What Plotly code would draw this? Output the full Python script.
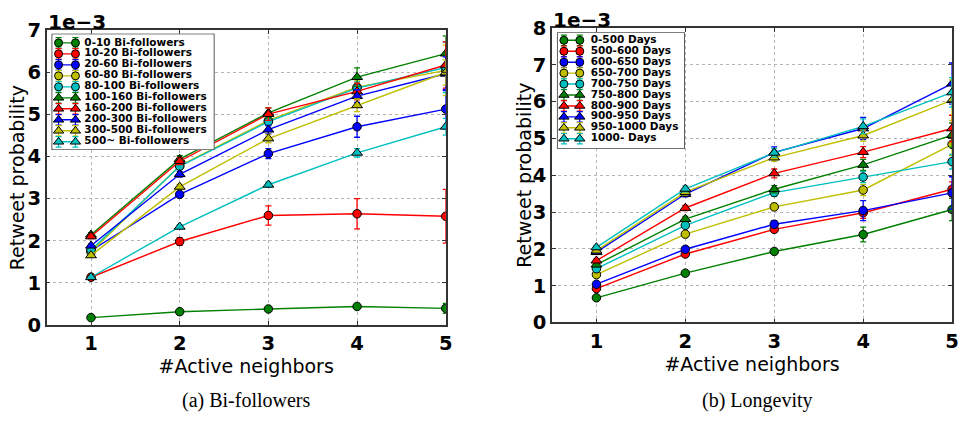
import plotly.graph_objects as go

W, H = 968, 425

# ---------------- data (values in units of 1e-3) ----------------
x_neighbors = [1, 2, 3, 4, 5]

bi_labels = ["0-10 Bi-followers", "10-20 Bi-followers", "20-60 Bi-followers",
             "60-80 Bi-followers", "80-100 Bi-followers", "100-160 Bi-followers",
             "160-200 Bi-followers", "200-300 Bi-followers", "300-500 Bi-followers",
             "500~ Bi-followers"]
bi_0_10 = [0.17, 0.31, 0.375, 0.435, 0.39]
bi_10_20 = [1.13, 1.98, 2.60, 2.64, 2.58]
bi_20_60 = [1.76, 3.10, 4.07, 4.71, 5.13]
bi_60_80 = [1.73, 3.78, 4.86, 5.65, 6.05]
bi_80_100 = [1.78, 3.77, 4.83, 5.63, 6.12]
bi_100_160 = [2.14, 3.94, 5.04, 5.89, 6.45]
bi_160_200 = [2.10, 3.89, 5.01, 5.55, 6.18]
bi_200_300 = [1.88, 3.58, 4.64, 5.44, 5.97]
bi_300_500 = [1.65, 3.28, 4.43, 5.22, 6.00]
bi_500_up = [1.13, 2.33, 3.33, 4.09, 4.71]

bi_err_0_10 = [0.02, 0.03, 0.03, 0.05, 0.12]
bi_err_10_20 = [0.04, 0.09, 0.23, 0.36, 0.64]
bi_err_20_60 = [0.05, 0.06, 0.12, 0.25, 0.47]
bi_err_60_80 = [0.05, 0.06, 0.10, 0.15, 0.60]
bi_err_80_100 = [0.04, 0.07, 0.10, 0.15, 0.60]
bi_err_100_160 = [0.05, 0.08, 0.12, 0.22, 0.42]
bi_err_160_200 = [0.05, 0.08, 0.15, 0.20, 0.55]
bi_err_200_300 = [0.04, 0.07, 0.10, 0.15, 0.40]
bi_err_300_500 = [0.04, 0.06, 0.10, 0.15, 0.30]
bi_err_500_up = [0.03, 0.05, 0.06, 0.10, 0.20]

lg_labels = ["0-500 Days", "500-600 Days", "600-650 Days", "650-700 Days",
             "700-750 Days", "750-800 Days", "800-900 Days", "900-950 Days",
             "950-1000 Days", "1000- Days"]
lg_0_500 = [0.67, 1.34, 1.93, 2.39, 3.07]
lg_500_600 = [0.92, 1.86, 2.53, 2.98, 3.62]
lg_600_650 = [1.04, 1.99, 2.67, 3.04, 3.52]
lg_650_700 = [1.30, 2.40, 3.14, 3.60, 4.84]
lg_700_750 = [1.46, 2.64, 3.53, 3.95, 4.37]
lg_750_800 = [1.57, 2.81, 3.62, 4.28, 5.09]
lg_800_900 = [1.68, 3.11, 4.05, 4.63, 5.27]
lg_900_950 = [1.91, 3.49, 4.62, 5.27, 6.49]
lg_950_1000 = [1.95, 3.54, 4.48, 5.08, 6.04]
lg_1000_up = [2.04, 3.63, 4.61, 5.33, 6.25]

lg_err_0_500 = [0.03, 0.05, 0.07, 0.20, 0.30]
lg_err_500_600 = [0.04, 0.06, 0.08, 0.15, 0.20]
lg_err_600_650 = [0.04, 0.06, 0.10, 0.27, 0.44]
lg_err_650_700 = [0.04, 0.06, 0.10, 0.15, 0.30]
lg_err_700_750 = [0.04, 0.06, 0.10, 0.15, 0.20]
lg_err_750_800 = [0.05, 0.07, 0.10, 0.15, 0.33]
lg_err_800_900 = [0.05, 0.07, 0.12, 0.15, 0.36]
lg_err_900_950 = [0.05, 0.08, 0.15, 0.30, 0.56]
lg_err_950_1000 = [0.05, 0.08, 0.10, 0.15, 0.55]
lg_err_1000_up = [0.05, 0.08, 0.12, 0.20, 0.40]

bi_values = [bi_0_10, bi_10_20, bi_20_60, bi_60_80, bi_80_100,
             bi_100_160, bi_160_200, bi_200_300, bi_300_500, bi_500_up]
bi_errors = [bi_err_0_10, bi_err_10_20, bi_err_20_60, bi_err_60_80, bi_err_80_100,
             bi_err_100_160, bi_err_160_200, bi_err_200_300, bi_err_300_500, bi_err_500_up]
lg_values = [lg_0_500, lg_500_600, lg_600_650, lg_650_700, lg_700_750,
             lg_750_800, lg_800_900, lg_900_950, lg_950_1000, lg_1000_up]
lg_errors = [lg_err_0_500, lg_err_500_600, lg_err_600_650, lg_err_650_700, lg_err_700_750,
             lg_err_750_800, lg_err_800_900, lg_err_900_950, lg_err_950_1000, lg_err_1000_up]

# ---------------- styles ----------------
COLORS = ["#008000", "#FF0000", "#0000FF", "#BFBF00", "#00BFBF"] * 2
SYMBOLS = ["circle"] * 5 + ["triangle-up"] * 5
SIZES = [8.5] * 5 + [9.5] * 5

SANS = "DejaVu Sans, Verdana, sans-serif"
SERIF = "Liberation Serif, Times New Roman, serif"


def px_dom_x(a, b):
    return [a / W, b / W]


def px_dom_y(top, bottom):
    return [(H - bottom) / H, (H - top) / H]


def py(ypx):
    return 1 - ypx / H


fig = go.Figure()


def add_series(values, errors, xa, ya):
    for i, (v, e) in enumerate(zip(values, errors)):
        fig.add_trace(go.Scatter(
            x=x_neighbors, y=v, xaxis=xa, yaxis=ya, mode="lines+markers",
            line=dict(color=COLORS[i], width=1.4),
            marker=dict(symbol=SYMBOLS[i], size=SIZES[i], color=COLORS[i],
                        line=dict(color="black", width=1)),
            error_y=dict(type="data", array=e, visible=True, color=COLORS[i],
                         thickness=1.3, width=3),
            showlegend=False, hoverinfo="skip"))


add_series(bi_values, bi_errors, "x", "y")
add_series(lg_values, lg_errors, "x2", "y2")

# ---------------- manual legends (own axes) ----------------
box_x = [0, 1, 1, 0, 0]
box_y = [0, 0, 1, 1, 0]


def add_legend(labels, xa, ya, box_w, box_h, first_row, row_step, m1, m2, tx):
    # opaque legend frame (drawn in the legend subplot, above the data)
    fig.add_trace(go.Scatter(
        x=box_x, y=box_y, xaxis=xa, yaxis=ya, mode="lines", fill="toself",
        fillcolor="white", line=dict(color="black", width=1.3),
        showlegend=False, hoverinfo="skip"))
    rows = [1 - (first_row + row_step * i) / box_h for i in range(len(labels))]
    for i, yy in enumerate(rows):
        fig.add_trace(go.Scatter(
            x=[m1 / box_w, m2 / box_w], y=[yy, yy], xaxis=xa, yaxis=ya,
            mode="lines+markers",
            line=dict(color=COLORS[i], width=1.4),
            marker=dict(symbol=SYMBOLS[i], size=SIZES[i] - 0.5, color=COLORS[i],
                        line=dict(color="black", width=1)),
            error_y=dict(type="constant", value=0.045, color=COLORS[i],
                         thickness=1.2, width=3),
            showlegend=False, hoverinfo="skip"))
    fig.add_trace(go.Scatter(
        x=[tx / box_w] * len(labels), y=rows, xaxis=xa, yaxis=ya,
        mode="text", text=labels, textposition="middle right",
        textfont=dict(family=SANS, size=10.5, color="black", weight="bold"),
        showlegend=False, hoverinfo="skip"))


add_legend(bi_labels, "x3", "y3", 164, 123, 9.7, 11.62, 7, 24, 33)
add_legend(lg_labels, "x4", "y4", 129, 123, 8.3, 11.56, 7, 23, 34)

# ---------------- axes ----------------
grid = dict(showgrid=True, gridcolor="#b4b4b4", griddash="dot", gridwidth=1)
frame = dict(showline=True, mirror="ticks", linecolor="#333", linewidth=1.6,
             ticks="inside", ticklen=4, tickcolor="#333", zeroline=False)
tickfont = dict(family=SANS, size=19.5, color="black", weight="bold")
titlefont = dict(family=SANS, size=19, color="black")

xcommon = dict(range=[0.5, 5], tickvals=x_neighbors, tickfont=tickfont,
               title=dict(text="#Active neighbors", font=titlefont, standoff=0),
               **grid, **frame)

fig.update_layout(
    width=W, height=H, margin=dict(l=0, r=0, t=0, b=0),
    paper_bgcolor="white", plot_bgcolor="white", showlegend=False,
    xaxis=dict(domain=px_dom_x(47, 449), anchor="y", **xcommon),
    yaxis=dict(domain=px_dom_y(20.6, 331.7), anchor="x", range=[0, 7], dtick=1,
               tickfont=tickfont, **grid, **frame),
    xaxis2=dict(domain=px_dom_x(556, 959), anchor="y2", **xcommon),
    yaxis2=dict(domain=px_dom_y(18, 329.3), anchor="x2", range=[0, 8], dtick=1,
                tickfont=tickfont, **grid, **frame),
    xaxis3=dict(domain=px_dom_x(52, 216), anchor="y3", range=[0, 1], visible=False),
    yaxis3=dict(domain=px_dom_y(24, 147), anchor="x3", range=[0, 1], visible=False),
    xaxis4=dict(domain=px_dom_x(561, 690), anchor="y4", range=[0, 1], visible=False),
    yaxis4=dict(domain=px_dom_y(22.7, 145.7), anchor="x4", range=[0, 1], visible=False),
)

# axis titles (y), offset labels and captions
annotations = [
    dict(x=18 / W, y=py(176), xref="paper", yref="paper", text="Retweet probability",
         textangle=-90, showarrow=False, xanchor="center", yanchor="middle",
         font=titlefont),
    dict(x=527 / W, y=py(174), xref="paper", yref="paper", text="Retweet probability",
         textangle=-90, showarrow=False, xanchor="center", yanchor="middle",
         font=titlefont),
    dict(x=46 / W, y=py(12), xref="paper", yref="paper", text="1e\u22123",
         showarrow=False, xanchor="left", yanchor="middle",
         font=dict(family=SANS, size=20, color="black", weight="bold")),
    dict(x=555 / W, y=py(9), xref="paper", yref="paper", text="1e\u22123",
         showarrow=False, xanchor="left", yanchor="middle",
         font=dict(family=SANS, size=20, color="black", weight="bold")),
    dict(x=248 / W, y=py(412), xref="paper", yref="paper", text="(a) Bi-followers",
         showarrow=False, xanchor="center", yanchor="middle",
         font=dict(family=SERIF, size=20, color="black")),
    dict(x=763 / W, y=py(412), xref="paper", yref="paper", text="(b) Longevity",
         showarrow=False, xanchor="center", yanchor="middle",
         font=dict(family=SERIF, size=20, color="black")),
]
fig.update_layout(annotations=annotations)

fig.write_html("out.html")
